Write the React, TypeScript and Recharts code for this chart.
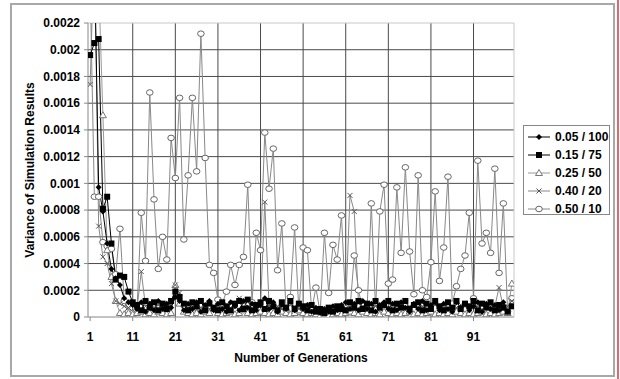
import { CartesianGrid, Line, LineChart, XAxis, YAxis } from "recharts";

// generation numbers 1..100
const generations = Array.from({ length: 100 }, (_, i) => i + 1);
const xTicks = [1, 11, 21, 31, 41, 51, 61, 71, 81, 91];
const xGrid = [11, 21, 31, 41, 51, 61, 71, 81, 91];
const yTicks = [0, 0.0002, 0.0004, 0.0006, 0.0008, 0.001, 0.0012, 0.0014, 0.0016, 0.0018, 0.002, 0.0022];
const yGrid = [0.0002, 0.0004, 0.0006, 0.0008, 0.001, 0.0012, 0.0014, 0.0016, 0.0018, 0.002];

// variance per generation, one list per mutation / population setting
const v005 = [
  0.0035, 0.0027, 0.00097, 0.00079, 0.00055, 0.00036, 0.00029, 0.00024, 0.00014, 0.00011,
  0.00009, 0.00006, 0.00011, 0.00004, 0.0001, 0.00005, 0.00012, 0.00006, 0.0001, 0.00007,
  0.00015, 0.00012, 0.00005, 0.0001, 0.00006, 0.00011, 0.00004, 0.00009, 0.00012, 0.00005,
  0.0001, 0.00006, 0.00004, 0.00011, 0.00008, 0.00005, 0.00012, 0.00007, 0.0001, 0.00005,
  0.00009, 0.00014, 0.00006, 0.00011, 0.00004, 0.00009, 0.00006, 0.00012, 0.00005, 0.0001,
  0.00006, 0.00009, 0.00004, 0.00007, 0.00003, 0.00006, 0.00004, 0.00008, 0.00005, 0.00009,
  0.00011, 0.00006, 0.0001, 0.00005, 0.00012, 0.00006, 0.0001, 0.00004, 0.00009, 0.00011,
  0.00006, 0.0001, 0.00005, 0.00011, 0.00007, 0.00004, 0.0001, 0.00006, 0.00012, 0.00005,
  0.00009, 0.00011, 0.00005, 0.0001, 0.00006, 0.00004, 0.00011, 0.00007, 0.0001, 0.00005,
  0.00008, 0.00011, 0.00004, 0.0001, 0.00006, 0.00009, 0.00005, 0.00011, 0.00004, 0.00008,
];
const v015 = [
  0.00196, 0.00205, 0.00208, 0.00081, 0.0009, 0.00055, 0.00028, 0.00031, 0.0003, 0.00019,
  0.00011, 0.00009, 0.00005, 0.00012, 0.00007, 0.00011, 0.00005, 0.0001, 0.00006, 0.00012,
  0.00019, 0.00015, 0.0001, 0.00005, 0.00011, 0.00008, 0.00012, 0.00005, 0.0001, 0.00007,
  0.00005, 0.00011, 0.00008, 0.00005, 0.0001, 0.00012, 0.00006, 0.00013, 0.00005, 0.00009,
  0.00011, 0.00006, 0.00012, 0.00008, 0.00005, 0.00011, 0.00007, 0.00012, 0.00006, 0.0001,
  0.00008, 0.00005, 0.00009, 0.00004, 0.00006, 0.00003, 0.00007, 0.00004, 0.00008, 0.00006,
  0.00005, 0.00011, 0.00007, 0.00012, 0.00006, 0.0001, 0.00005, 0.00012, 0.00007, 0.00009,
  0.00012, 0.00005, 0.0001, 0.00007, 0.00012, 0.00006, 0.00009, 0.00011, 0.00005, 0.0001,
  0.00006, 0.00012, 0.00008, 0.00005, 0.00011, 0.00007, 0.00012, 0.00006, 0.0001, 0.00008,
  0.00012, 0.00005, 0.0001, 0.00007, 0.00011, 0.00005, 0.00009, 0.00007, 0.00004, 0.00008,
];
const v025 = [
  0.003, 0.0026, 0.0025, 0.00151, 0.0005, 0.0003, 0.00012, 0.00003, 0.00002, 0.00003,
  0.00002, 0.00003, 0.00004, 0.00002, 0.00003, 0.00002, 0.00004, 0.00003, 0.00002, 0.00003,
  0.00024, 0.0001, 0.00004, 0.00003, 0.00002, 0.00003, 0.00002, 0.00004, 0.00003, 0.00006,
  0.00003, 0.00002, 0.00003, 0.00004, 0.00002, 0.00003, 0.00005, 0.00003, 0.00002, 0.00003,
  0.00004, 0.00003, 0.00002, 0.00003, 0.00002, 0.00004, 0.00003, 0.00002, 0.00003, 0.00005,
  0.00003, 0.00002, 0.00003, 0.00002, 0.00001, 0.00002, 0.00001, 0.00002, 0.00003, 0.00002,
  0.00003, 0.00004, 0.00003, 0.00002, 0.00004, 0.00003, 0.00002, 0.00003, 0.00002, 0.00004,
  0.00003, 0.00002, 0.00003, 0.00002, 0.00003, 0.00004, 0.00002, 0.00003, 0.00002, 0.00003,
  0.00004, 0.00002, 0.00003, 0.00002, 0.00003, 0.00002, 0.00004, 0.00003, 0.00002, 0.00003,
  0.00002, 0.00003, 0.00004, 0.00002, 0.00003, 0.00002, 0.00003, 0.00004, 0.00003, 0.00025,
];
const v040 = [
  0.00174, 0.0028, 0.00068, 0.00045, 0.0004, 0.00025, 0.00012, 0.0001, 0.00008, 0.00007,
  0.00009, 0.00006, 0.00034, 0.00008, 0.00011, 0.00007, 0.00009, 0.00008, 0.00007, 0.00009,
  0.00024, 0.00018, 0.00009, 0.00007, 0.00008, 0.00006, 0.00007, 0.00009, 0.00006, 0.00008,
  0.00007, 0.00006, 0.00008, 0.00007, 0.00009, 0.00014, 0.00008, 0.00007, 0.00006, 0.00009,
  0.00008, 0.00086, 0.00009, 0.00007, 0.00008, 0.00006, 0.00007, 0.00009, 0.00008, 0.00006,
  0.00007, 0.00008, 0.00005, 0.00006, 0.00004, 0.00005, 0.00006, 0.00005, 0.00007, 0.00008,
  0.00009, 0.00091, 0.00079, 0.0001, 0.00008, 0.00007, 0.00009, 0.00008, 0.00006, 0.00008,
  0.00007, 0.00009, 0.00008, 0.00007, 0.00006, 0.00008, 0.00009, 0.00007, 0.00008, 0.00006,
  0.00007, 0.00009, 0.00008, 0.00007, 0.00006, 0.00008, 0.00007, 0.00009, 0.00008, 0.00006,
  0.00007, 0.00008, 0.00009, 0.00007, 0.00008, 0.00008, 0.00022, 0.00007, 0.00008, 0.00012,
];
const v050 = [
  0.0025, 0.0009, 0.0009, 0.00056, 0.00053, 0.00051, 0.00032, 0.00066, 0.00012, 0.00004,
  0.00003, 0.00005, 0.00078, 0.00042, 0.00168, 0.00088, 0.00036, 0.0006, 0.00043, 0.00134,
  0.00104, 0.00164, 0.00058, 0.00106, 0.00164, 0.00109, 0.00212, 0.00119, 0.00039, 0.00033,
  0.00013, 0.0001, 0.00019, 0.00039, 0.00024, 0.00039, 0.00045, 0.00099, 0.00011, 0.00063,
  0.0005, 0.00138, 0.00096, 0.00126, 0.00035, 0.0007, 0.00005, 0.00015, 0.00067, 0.00004,
  0.00052, 0.0005, 0.00005, 0.00022, 0.00003, 0.00063, 0.00018, 0.00054, 0.00043, 0.00076,
  0.00009, 0.00006, 0.00046, 0.0002, 0.00005, 0.00004, 0.00085, 0.00006, 0.00079, 0.00099,
  0.00025, 0.00028, 0.00097, 0.00048, 0.00112, 0.00049, 0.00017, 0.00106, 0.0002, 0.00015,
  0.00041, 0.00094, 0.00027, 0.00052, 0.00105, 0.0001, 0.00023, 0.00036, 0.00046, 0.00078,
  0.00014, 0.00117, 0.00055, 0.00063, 0.00048, 0.00111, 0.00033, 0.00085, 0.00004, 0.00014,
];

const rows = generations.map((gen, i) => ({
  gen,
  v005: v005[i],
  v015: v015[i],
  v025: v025[i],
  v040: v040[i],
  v050: v050[i],
}));

type Shape = "diamond" | "square" | "triangle" | "cross" | "circle";

function Marker({ shape, cx, cy }: { shape: Shape; cx: number; cy: number }) {
  if (shape === "diamond")
    return <polygon points={`${cx},${cy - 3} ${cx + 3},${cy} ${cx},${cy + 3} ${cx - 3},${cy}`} fill="#000" />;
  if (shape === "square") return <rect x={cx - 3} y={cy - 3} width={6} height={6} fill="#000" />;
  if (shape === "triangle")
    return (
      <polygon
        points={`${cx},${cy - 3.5} ${cx + 3.5},${cy + 2.5} ${cx - 3.5},${cy + 2.5}`}
        fill="#fff"
        stroke="#777"
        strokeWidth={1}
      />
    );
  if (shape === "cross")
    return (
      <g stroke="#555" strokeWidth={1}>
        <line x1={cx - 2.5} y1={cy - 2.5} x2={cx + 2.5} y2={cy + 2.5} />
        <line x1={cx - 2.5} y1={cy + 2.5} x2={cx + 2.5} y2={cy - 2.5} />
      </g>
    );
  return <ellipse cx={cx} cy={cy} rx={3.3} ry={2.8} fill="#fff" stroke="#666" strokeWidth={1} />;
}

const series: { key: string; name: string; stroke: string; shape: Shape }[] = [
  { key: "v005", name: "0.05 / 100", stroke: "#000", shape: "diamond" },
  { key: "v015", name: "0.15 / 75", stroke: "#000", shape: "square" },
  { key: "v025", name: "0.25 / 50", stroke: "#999", shape: "triangle" },
  { key: "v040", name: "0.40 / 20", stroke: "#888", shape: "cross" },
  { key: "v050", name: "0.50 / 10", stroke: "#888", shape: "circle" },
];

// circles go underneath, the two black series on top
const drawOrder = ["v050", "v025", "v040", "v015", "v005"];

const font = "'Liberation Sans', Arial, sans-serif";
const tickStyle = { fill: "#000", fontSize: 12, fontWeight: 700, fontFamily: font };

const fmt = (v: number) => (v === 0 ? "0" : String(v));

export default function App() {
  return (
    <div style={{ position: "absolute", left: 0, top: 0, width: 620, height: 379, background: "#fff", overflow: "hidden" }}>
      <div
        style={{
          position: "absolute",
          left: 10,
          top: 3,
          width: 601,
          height: 370,
          border: "2px solid #a8a8a8",
        }}
      />
      <div style={{ position: "absolute", left: 617, top: 0, width: 2, height: 379, background: "#e06a6a" }} />
      <LineChart
        width={620}
        height={379}
        data={rows}
        margin={{ top: 23, right: 106, bottom: 32, left: 28 }}
        style={{ position: "absolute", left: 0, top: 0 }}
      >
        <CartesianGrid horizontalValues={yGrid} verticalValues={xGrid} stroke="#4a4a4a" strokeWidth={1} />
        <CartesianGrid horizontalValues={[0.0022]} verticalValues={[100.5]} stroke="#c8c8c8" strokeWidth={1} />
        <XAxis
          dataKey="gen"
          type="number"
          domain={[0.5, 100.5]}
          ticks={xTicks}
          interval={0}
          allowDataOverflow
          height={30}
          tick={tickStyle}
          axisLine={{ stroke: "#888" }}
          tickLine={{ stroke: "#888" }}
          tickSize={4}
          tickMargin={11}
        />
        <YAxis
          type="number"
          domain={[0, 0.0022]}
          ticks={yTicks}
          interval={0}
          allowDataOverflow
          width={60}
          tick={tickStyle}
          tickFormatter={fmt}
          axisLine={{ stroke: "#888" }}
          tickLine={{ stroke: "#888" }}
          tickSize={4}
          tickMargin={4}
        />
        {drawOrder.map((k) => {
          const s = series.find((x) => x.key === k)!;
          return (
            <Line
              key={s.key}
              dataKey={s.key}
              name={s.name}
              type="linear"
              stroke={s.stroke}
              strokeWidth={1}
              isAnimationActive={false}
              dot={(p: any) => <Marker key={`${s.key}-${p.index}`} shape={s.shape} cx={p.cx} cy={p.cy} />}
              activeDot={false}
            />
          );
        })}
      </LineChart>
      <div
        style={{
          position: "absolute",
          left: 30,
          top: 170,
          transform: "translate(-50%, -50%) rotate(-90deg)",
          whiteSpace: "nowrap",
          fontFamily: font,
          fontSize: 12,
          fontWeight: 700,
        }}
      >
        Variance of Simulation Results
      </div>
      <div
        style={{
          position: "absolute",
          left: 301,
          top: 358,
          transform: "translate(-50%, -50%)",
          whiteSpace: "nowrap",
          fontFamily: font,
          fontSize: 12,
          fontWeight: 700,
        }}
      >
        Number of Generations
      </div>
      <div
        style={{
          position: "absolute",
          left: 523,
          top: 125,
          width: 87,
          height: 90,
          border: "1px solid #888",
          background: "#fff",
          boxSizing: "border-box",
          paddingTop: 2,
        }}
      >
        {series.map((s) => (
          <div key={s.key} style={{ display: "flex", alignItems: "center", height: 18, paddingLeft: 4 }}>
            <svg width={22} height={10} style={{ flex: "none" }}>
              <line x1={0} y1={5} x2={22} y2={5} stroke={s.stroke} strokeWidth={1} />
              <Marker shape={s.shape} cx={11} cy={5} />
            </svg>
            <span style={{ marginLeft: 5, fontFamily: font, fontSize: 12, fontWeight: 700, whiteSpace: "nowrap" }}>
              {s.name}
            </span>
          </div>
        ))}
      </div>
    </div>
  );
}
